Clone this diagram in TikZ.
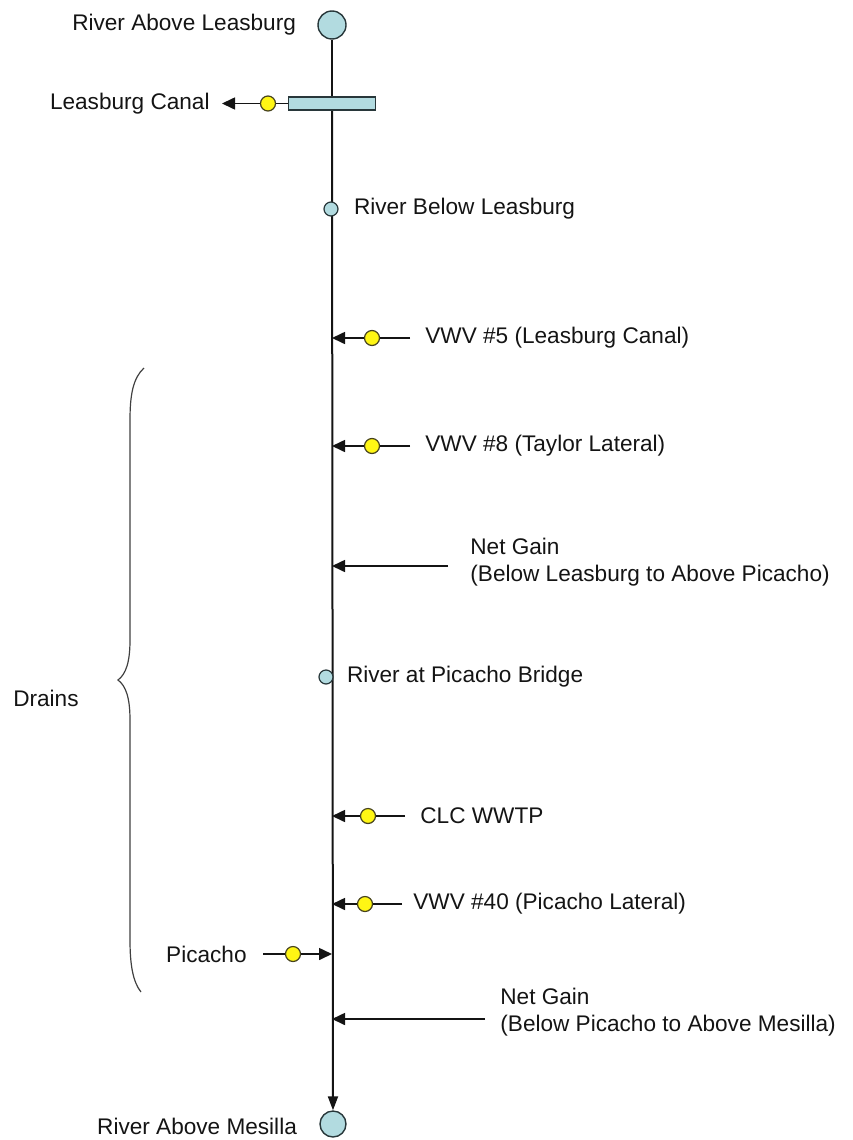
\documentclass[tikz,border=0pt]{standalone}
\usepackage{fontspec}
\setmainfont{Liberation Sans}
\usepackage{tikz}
\usetikzlibrary{arrows.meta,positioning,backgrounds}
\definecolor{riverfill}{RGB}{178,219,224}
\definecolor{rimgray}{RGB}{40,55,58}
\definecolor{gaugey}{RGB}{255,246,20}
\definecolor{gaugerim}{RGB}{70,66,30}
\definecolor{ink}{RGB}{20,20,20}

\begin{document}
\begin{tikzpicture}[x=0.5pt,y=-0.5pt,
      font=\fontsize{11.3}{13.6}\selectfont,
      site/.style={circle,draw=rimgray,fill=riverfill,line width=0.7pt,inner sep=0pt},
      mainsite/.style={site,minimum size=14pt},
      subsite/.style={site,minimum size=7pt,line width=0.6pt},
      gauge/.style={circle,draw=gaugerim,fill=gaugey,line width=0.6pt,minimum size=7.5pt,inner sep=0pt},
      canalbox/.style={rectangle,draw=rimgray,fill=riverfill,line width=0.7pt,
                       minimum width=43.5pt,minimum height=6.5pt,inner sep=0pt},
      lbl/.style={inner sep=0pt,align=left,text=ink},
      riv/.style={line width=1pt,color=ink},
      pipe/.style={line width=0.8pt,color=ink},
      ar/.style={-{Triangle[length=6.5pt,width=6pt]},line width=0.8pt,color=ink}]
      \useasboundingbox (0,0) rectangle (852,1140);
      % river stations
      \node[mainsite] (abv) at (332,25) {};
      \node[lbl,left=10.5pt of abv] (labv) {River Above Leasburg};
      \node[canalbox] (canal) at (332,103.5) {};
      \node[subsite] (bl) at (331,209) {};
      \node[lbl,right=7.5pt of bl] (lbl1) {River Below Leasburg};
      \node[subsite] (pb) at (326,677) {};
      \node[lbl,right=6.5pt of pb] (lpb) {River at Picacho Bridge};
      \node[mainsite,minimum size=13pt] (mes) at (333,1124) {};
      \node[lbl,left=11pt of mes,yshift=-1pt] (lmes) {River Above Mesilla};
      \begin{scope}[on background layer]
        \draw[riv] (abv) -- (canal);
        \draw[riv,-{Triangle[length=7pt,width=5pt]}] (canal) -- (mes);
      \end{scope}
      % diversion
      \node[gauge] (gc) at (268,103.5) {};
      \coordinate (tc) at (222,103.5);
      \draw[pipe] (canal) -- (gc); \draw[ar] (gc) -- (tc);
      \node[lbl,left=6pt of tc] (lc) {Leasburg Canal};
      % inflows
      \node[gauge] (g5) at (372,338) {};
      \coordinate (t5) at (410,338); \coordinate (j5) at (332,338);
      \draw[pipe] (t5) -- (g5); \draw[ar] (g5) -- (j5);
      \node[lbl,right=7.5pt of t5] (l5) {VWV \#5 (Leasburg Canal)};
      \node[gauge] (g8) at (372,446) {};
      \coordinate (t8) at (410,446); \coordinate (j8) at (332,446);
      \draw[pipe] (t8) -- (g8); \draw[ar] (g8) -- (j8);
      \node[lbl,right=7.5pt of t8] (l8) {VWV \#8 (Taylor Lateral)};
      \coordinate (tn1) at (448,566); \coordinate (jn1) at (332,566);
      \draw[ar] (tn1) -- (jn1);
      \node[lbl,right=11pt of tn1,yshift=2pt] (ln1) {Net Gain\\(Below Leasburg to Above Picacho)};
      \node[gauge] (gw) at (368,816) {};
      \coordinate (tw) at (405,816); \coordinate (jw) at (332,816);
      \draw[pipe] (tw) -- (gw); \draw[ar] (gw) -- (jw);
      \node[lbl,right=7.5pt of tw] (lw) {CLC WWTP};
      \node[gauge] (g40) at (365,904) {};
      \coordinate (t40) at (402,904); \coordinate (j40) at (332,904);
      \draw[pipe] (t40) -- (g40); \draw[ar] (g40) -- (j40);
      \node[lbl,right=5.5pt of t40] (l40) {VWV \#40 (Picacho Lateral)};
      \node[gauge] (gp) at (293,954) {};
      \coordinate (tp) at (263,954); \coordinate (jp) at (332,954);
      \draw[pipe] (tp) -- (gp); \draw[ar] (gp) -- (jp);
      \node[lbl,left=8pt of tp] (lp) {Picacho};
      \coordinate (tn2) at (485,1019); \coordinate (jn2) at (332,1019);
      \draw[ar] (tn2) -- (jn2);
      \node[lbl,right=7.5pt of tn2,yshift=3.5pt] (ln2) {Net Gain\\(Below Picacho to Above Mesilla)};
      % drains brace
      \draw[line width=0.6pt,color=black!75] (144,368) .. controls (133,378) and (130,395) .. (130,420)
        -- (130,640) .. controls (130,662) and (126,674) .. (118,680)
        .. controls (126,686) and (130,698) .. (130,720) -- (130,940)
        .. controls (130,965) and (133,982) .. (141,992);
      \coordinate (tip) at (118,680);
      \node[lbl,left=19.5pt of tip,yshift=-9pt] (drains) {Drains};
    \end{tikzpicture}
\end{document}
